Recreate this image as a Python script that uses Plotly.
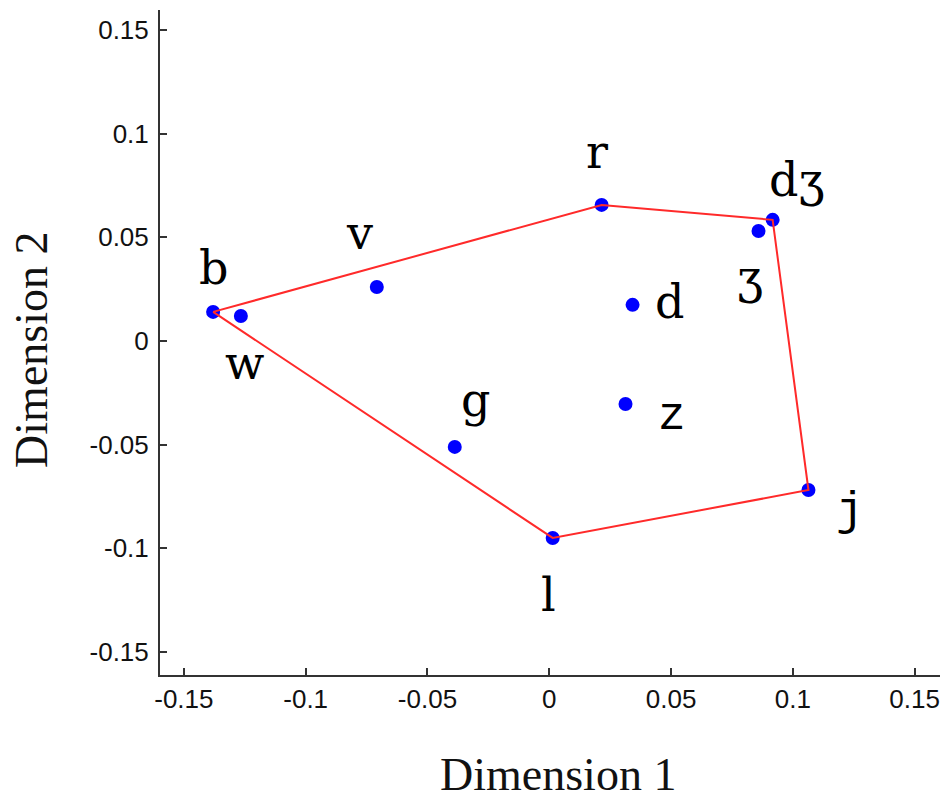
import plotly.graph_objects as go

# ---- data ----
labels = ["b", "w", "v", "r", "dʒ", "ʒ", "d", "z", "g", "l", "j"]
dim1 = [-0.138, -0.1266, -0.0708, 0.0215, 0.0917, 0.0859, 0.0342, 0.0313, -0.0388, 0.0014, 0.1064]
dim2 = [0.014, 0.012, 0.026, 0.0656, 0.0584, 0.053, 0.0174, -0.0304, -0.0511, -0.095, -0.0719]
hull_order = ["b", "r", "dʒ", "j", "l", "b"]
tick_vals = [-0.15, -0.1, -0.05, 0, 0.05, 0.1, 0.15]
tick_text = ["-0.15", "-0.1", "-0.05", "0", "0.05", "0.1", "0.15"]

# label offsets in pixels (dx, dy up)
label_offsets = {
    "b": (0, 44), "w": (4, -47), "v": (-17, 54), "r": (-5, 53),
    "dʒ": (24, 40), "ʒ": (-9, -46), "d": (37, 3), "z": (46, -13),
    "g": (21, 47), "l": (-4, -57), "j": (42, -22),
}
mono_labels = {"j", "z"}

idx = {lab: i for i, lab in enumerate(labels)}
hx = [dim1[idx[k]] for k in hull_order]
hy = [dim2[idx[k]] for k in hull_order]

fig = go.Figure()
fig.add_trace(go.Scatter(x=dim1, y=dim2, mode="markers",
                         marker=dict(color="#0000ff", size=14, line=dict(width=0)),
                         hoverinfo="skip", showlegend=False))
fig.add_trace(go.Scatter(x=hx, y=hy, mode="lines",
                         line=dict(color="#ff2a2a", width=2),
                         hoverinfo="skip", showlegend=False))

for lab, xv, yv in zip(labels, dim1, dim2):
    dx, dy = label_offsets[lab]
    fam = "Liberation Mono" if lab in mono_labels else "DejaVu Serif"
    fig.add_annotation(x=xv, y=yv, text=lab, showarrow=False,
                       xshift=dx, yshift=dy, xanchor="center", yanchor="middle",
                       font=dict(family=fam, size=46, color="#000000"))

title_font = dict(family="Liberation Serif, Times New Roman", size=46, color="#111111")
fig.add_annotation(xref="paper", yref="paper", x=0.5, y=-0.150, xshift=8,
                   text="Dimension 1", showarrow=False, xanchor="center", yanchor="middle",
                   font=title_font)
fig.add_annotation(xref="paper", yref="paper", x=-0.164, y=0.489,
                   text="Dimension 2", showarrow=False, xanchor="center", yanchor="middle",
                   textangle=-90, font=title_font)

axis_common = dict(
    showgrid=False, zeroline=False, showline=True, linecolor="#333333", linewidth=2,
    ticks="inside", ticklen=7, tickwidth=2, tickcolor="#333333",
    tickvals=tick_vals, ticktext=tick_text, automargin=False,
    tickfont=dict(family="Liberation Sans, Arial", size=26, color="#111111"),
    mirror=False,
)

fig.update_xaxes(range=[-0.1598, 0.1604], ticklabelstandoff=0, **axis_common)
fig.update_yaxes(range=[-0.1611, 0.1596], ticklabelstandoff=4, **axis_common)

fig.update_layout(width=952, height=806, plot_bgcolor="white", paper_bgcolor="white",
                  margin=dict(l=160, r=12, t=10, b=131))

fig.write_html("out.html", config={"displayModeBar": False},
               post_script="document.body.style.margin='0';document.body.style.overflow='hidden';")
